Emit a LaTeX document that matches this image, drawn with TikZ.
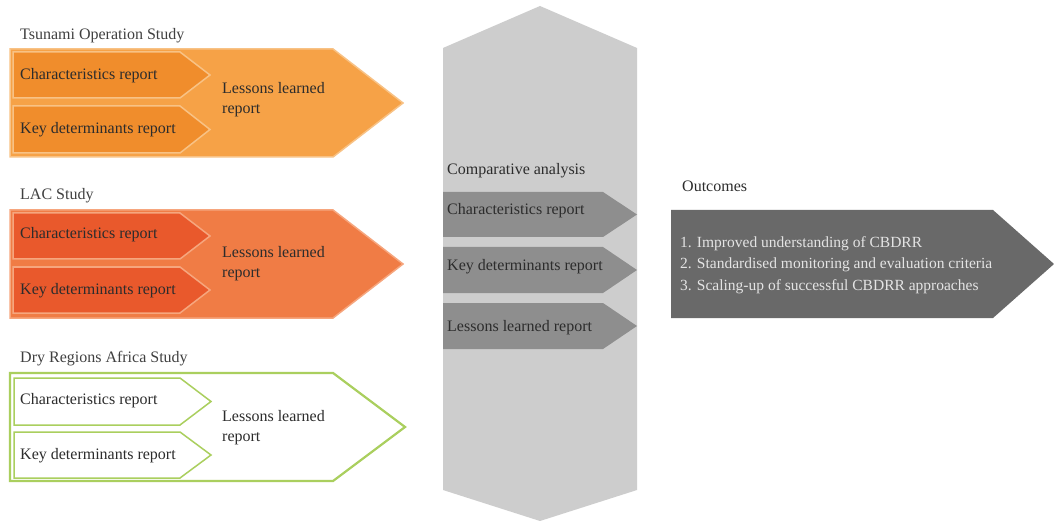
\documentclass[tikz,border=0pt]{standalone}
\usepackage{fontspec}
\setmainfont{Liberation Serif}
\definecolor{tsuOut}{HTML}{F6A247}
\definecolor{tsuIn}{HTML}{F08D2C}
\definecolor{tsuLine}{HTML}{F8C285}
\definecolor{lacOut}{HTML}{F07C45}
\definecolor{lacIn}{HTML}{E9592C}
\definecolor{lacLine}{HTML}{F6A67E}
\definecolor{dryLine}{HTML}{AACF5E}
\definecolor{hexFill}{HTML}{CDCDCD}
\definecolor{chevGray}{HTML}{8E8E8E}
\definecolor{outFill}{HTML}{696969}
\definecolor{txtDark}{HTML}{2C2C2C}
\definecolor{txtTitle}{HTML}{404040}
\definecolor{txtLight}{HTML}{E4E4E4}
\begin{document}
\begin{tikzpicture}[x=1pt,y=-1pt,
  lbl/.style={anchor=base west, inner sep=0pt, font=\fontsize{16}{20}\selectfont, text=txtDark},
  title/.style={lbl, text=txtTitle},
  multi/.style={anchor=west, inner sep=0pt, align=left, font=\fontsize{16}{20}\selectfont, text=txtDark},
  tsuouter/.style={fill=tsuOut, draw=tsuLine, line width=1.5pt},
  tsuinner/.style={fill=tsuIn, draw=tsuLine, line width=1.5pt},
  lacouter/.style={fill=lacOut, draw=lacLine, line width=1.5pt},
  lacinner/.style={fill=lacIn, draw=lacLine, line width=1.5pt},
  dryouter/.style={fill=white, draw=dryLine, line width=2.2pt},
  dryinner/.style={fill=white, draw=dryLine, line width=1.5pt},
  graychev/.style={fill=chevGray, draw=none},
  ]
\useasboundingbox (0,0) rectangle (1054,521);
\fill[white] (0,0) rectangle (1054,521);

% ---------- Tsunami Operation Study ----------
\node[title] (tTitle) at (20,40) {Tsunami Operation Study};
\draw[tsuouter] (10,49) -- (333,49) -- (403,103) -- (333,157) -- (10,157) -- cycle;
\draw[tsuinner] (13,52) -- (180,52) -- (210,75) -- (180,98) -- (13,98) -- cycle;
\draw[tsuinner] (13,106) -- (180,106) -- (210,129.5) -- (180,153) -- (13,153) -- cycle;
\node[lbl] (tChar) at (20,80) {Characteristics report};
\node[lbl] (tKey) at (20,134) {Key determinants report};
\node[multi] (tLess) at (222,100) {Lessons learned\\report};

% ---------- LAC Study ----------
\node[title] (lTitle) at (20,200) {LAC Study};
\draw[lacouter] (10,210) -- (333,210) -- (403,264) -- (333,318) -- (10,318) -- cycle;
\draw[lacinner] (13,213) -- (180,213) -- (210,236) -- (180,259) -- (13,259) -- cycle;
\draw[lacinner] (13,267) -- (180,267) -- (210,290) -- (180,313) -- (13,313) -- cycle;
\node[lbl] (lChar) at (20,239) {Characteristics report};
\node[lbl] (lKey) at (20,294) {Key determinants report};
\node[multi] (lLess) at (222,264) {Lessons learned\\report};

% ---------- Dry Regions Africa Study ----------
\node[title] (dTitle) at (20,362) {Dry Regions Africa Study};
\draw[dryouter] (10,373) -- (333,373) -- (405,427) -- (333,481) -- (10,481) -- cycle;
\draw[dryinner] (14,378) -- (180,378) -- (211,401.5) -- (180,425) -- (14,425) -- cycle;
\draw[dryinner] (14,432) -- (180,432) -- (211,455) -- (180,478) -- (14,478) -- cycle;
\node[lbl] (dChar) at (20,404) {Characteristics report};
\node[lbl] (dKey) at (20,459) {Key determinants report};
\node[multi] (dLess) at (222,428) {Lessons learned\\report};

% ---------- Comparative analysis ----------
\fill[hexFill] (443,48) -- (540,6) -- (637,48) -- (637,490) -- (540,521) -- (443,490) -- cycle;
\node[lbl] (cTitle) at (447,175) {Comparative analysis};
\fill[graychev] (443,192) -- (603,192) -- (637,214.5) -- (603,237) -- (443,237) -- cycle;
\fill[graychev] (443,247) -- (603,247) -- (637,270) -- (603,293) -- (443,293) -- cycle;
\fill[graychev] (443,303) -- (603,303) -- (637,326) -- (603,349) -- (443,349) -- cycle;
\node[lbl] (cChar) at (447,215) {Characteristics report};
\node[lbl] (cKey) at (447,270) {Key determinants report};
\node[lbl] (cLess) at (447,331) {Lessons learned report};

% ---------- Outcomes ----------
\node[lbl] (oTitle) at (682,192) {Outcomes};
\fill[outFill] (671,210) -- (993,210) -- (1054,264) -- (993,318) -- (671,318) -- cycle;
\node[multi, text=txtLight, font=\fontsize{15.5}{21.5}\selectfont] (oList) at (680,265)
  {1. Improved understanding of CBDRR\\2. Standardised monitoring and evaluation criteria\\3. Scaling-up of successful CBDRR approaches};
\end{tikzpicture}
\end{document}
